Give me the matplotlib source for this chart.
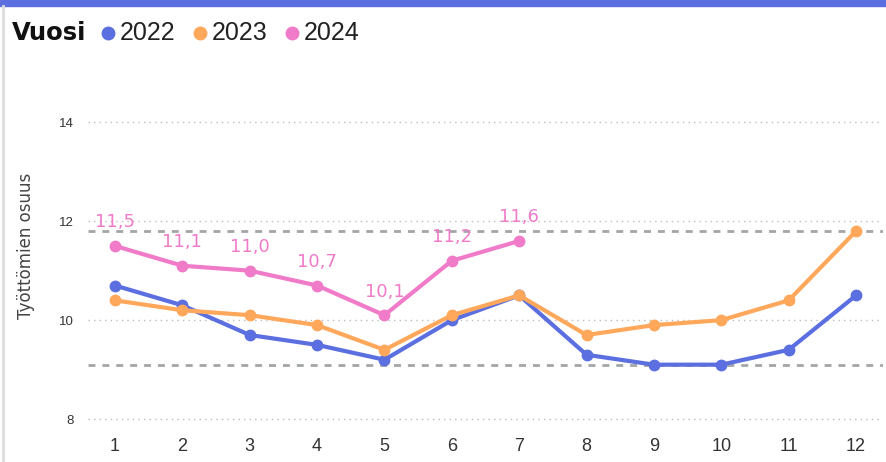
import matplotlib
matplotlib.use('Agg')
import matplotlib.pyplot as plt
from matplotlib.patches import Rectangle
from matplotlib.lines import Line2D

plt.rcParams['font.family'] = ['Liberation Sans', 'DejaVu Sans']

months = [1, 2, 3, 4, 5, 6, 7, 8, 9, 10, 11, 12]
years = ['2022', '2023', '2024']
v2022 = [10.7, 10.3, 9.7, 9.5, 9.2, 10.0, 10.5, 9.3, 9.1, 9.1, 9.4, 10.5]
v2023 = [10.4, 10.2, 10.1, 9.9, 9.4, 10.1, 10.5, 9.7, 9.9, 10.0, 10.4, 11.8]
v2024 = [11.5, 11.1, 11.0, 10.7, 10.1, 11.2, 11.6]
ref_max = 11.8
ref_min = 9.1
yticks = [8, 10, 12, 14]

c22 = '#5B6FE0'
c23 = '#FFA85C'
c24 = '#F07BC9'

W, H = 887, 462
fig = plt.figure(figsize=(W / 100, H / 100), dpi=100)
ax = fig.add_axes([88 / W, 32 / H, 795 / W, 335 / H])

# top bar and left border
fig.patches.append(Rectangle((0, 456 / H), 1, 6 / H, transform=fig.transFigure,
                             color='#5B6FE0', zorder=0))
fig.add_artist(Line2D([3 / W, 3 / W], [0, 456 / H], transform=fig.transFigure,
                      color='#DDDDDD', linewidth=2))

for yt in yticks:
    ax.axhline(yt, color='#BDBDBD', linestyle=(0, (1, 3)), linewidth=1.0, zorder=1)
ax.axhline(ref_max, color='#A3A6A6', linestyle=(0, (2.5, 2.5)), linewidth=2, zorder=2)
ax.axhline(ref_min, color='#A3A6A6', linestyle=(0, (2.5, 2.5)), linewidth=2, zorder=2)

ax.plot(months, v2022, '-o', color=c22, linewidth=3, markersize=7.5, zorder=3)
ax.plot(months, v2023, '-o', color=c23, linewidth=3, markersize=7.5, zorder=4)
ax.plot(months[:len(v2024)], v2024, '-o', color=c24, linewidth=3, markersize=7.5, zorder=5)

for m, v in zip(months, v2024):
    ax.annotate(f'{v:.1f}'.replace('.', ','), (m, v), xytext=(0, 10.5),
                textcoords='offset points', ha='center', va='bottom',
                color=c24, fontsize=13, family='DejaVu Sans')

ax.set_xlim(0.6, 12.4)
ax.set_ylim(7.78, 14.55)
ax.set_xticks(months)
ax.set_xticklabels([str(m) for m in months], fontsize=13, color='#333333')
ax.set_yticks(yticks)
ax.set_yticklabels([str(t) for t in yticks], fontsize=9.5, color='#333333')
ax.tick_params(length=0)
ax.tick_params(axis='y', pad=10)
ax.tick_params(axis='x', pad=6)
for s in ax.spines.values():
    s.set_visible(False)

# y axis title
fig.text(26 / W, 1 - 246 / H, 'Työttömien osuus', rotation=90, fontsize=12,
         family='DejaVu Sans', va='center', ha='center', color='#444444')

# legend: title + dots + years
ly = 1 - 33 / H
fig.text(12 / W, ly, 'Vuosi', fontsize=17.5, fontweight='bold', family='DejaVu Sans',
         va='center', ha='left', color='#111111')
for i, (yr, c) in enumerate(zip(years, (c22, c23, c24))):
    x0 = 108 + 92 * i
    fig.add_artist(Line2D([x0 / W], [ly], transform=fig.transFigure, marker='o',
                          linestyle='', color=c, markersize=9))
    fig.text((x0 + 12) / W, ly, yr, fontsize=18, va='center', ha='left',
             color='#222222')

fig.savefig('out.png', dpi=100, facecolor='white')
